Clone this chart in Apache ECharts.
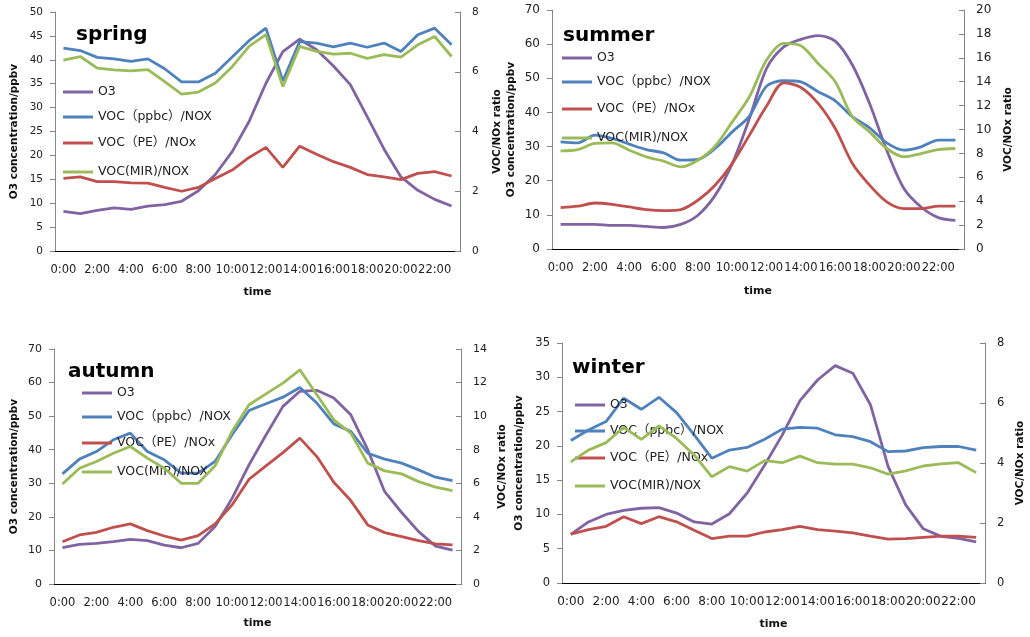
<!DOCTYPE html>
<html><head><meta charset="utf-8">
<script src="https://cdn.jsdelivr.net/npm/echarts@6/dist/echarts.min.js"></script>
<style>html,body{margin:0;padding:0;background:#fff}#c{width:1030px;height:637px}</style>
</head><body><div id="c"></div><script>
const hours = ['0:00','1:00','2:00','3:00','4:00','5:00','6:00','7:00','8:00','9:00','10:00','11:00','12:00','13:00','14:00','15:00','16:00','17:00','18:00','19:00','20:00','21:00','22:00','23:00'];
const seriesNames = ['O3','VOC（ppbc）/NOX','VOC（PE）/NOx','VOC(MIR)/NOX'];
const seasons = ['spring','summer','autumn','winter'];

const springO3   = [8.3,7.8,8.5,9.0,8.7,9.4,9.7,10.4,12.6,16.0,20.8,27.1,35.1,41.7,44.3,42.1,38.7,34.8,28.1,21.3,15.5,12.7,10.8,9.4];
const springPPBC = [6.79,6.71,6.48,6.43,6.35,6.43,6.10,5.66,5.66,5.95,6.49,7.04,7.46,5.69,7.01,6.96,6.83,6.96,6.82,6.96,6.68,7.24,7.46,6.90];
const springPE   = [2.43,2.48,2.32,2.32,2.28,2.27,2.13,2.00,2.13,2.43,2.71,3.13,3.47,2.80,3.51,3.24,2.99,2.80,2.56,2.48,2.39,2.60,2.66,2.51];
const springMIR  = [6.39,6.51,6.12,6.06,6.03,6.07,5.67,5.25,5.32,5.62,6.17,6.85,7.24,5.50,6.85,6.68,6.59,6.62,6.45,6.57,6.49,6.90,7.18,6.51];

const summerO3   = [7.2,7.2,7.2,6.9,6.9,6.6,6.3,7.2,9.9,15.7,25.0,38.2,52.9,59.2,61.4,62.5,60.9,53.9,42.6,28.9,17.7,12.3,9.2,8.4];
const summerPPBC = [8.97,8.88,9.53,9.25,8.77,8.32,8.04,7.43,7.49,8.41,9.80,11.12,13.63,14.08,13.99,13.16,12.40,11.06,10.14,8.88,8.27,8.55,9.11,9.11];
const summerPE   = [3.46,3.58,3.85,3.74,3.52,3.30,3.21,3.30,4.08,5.34,7.15,9.53,11.96,13.91,13.52,12.18,10.08,7.15,5.34,3.94,3.38,3.38,3.58,3.58];
const summerMIR  = [8.21,8.32,8.83,8.88,8.27,7.71,7.35,6.87,7.43,8.60,10.64,12.74,15.81,17.21,17.01,15.53,13.99,11.06,9.80,8.41,7.71,7.99,8.32,8.41];

const autumnO3   = [10.8,11.8,12.1,12.6,13.3,12.9,11.6,10.8,12.1,17.1,25.5,35.5,44.4,52.9,57.4,57.7,55.4,50.4,40.0,27.5,21.3,15.6,11.3,10.1];
const autumnPPBC = [6.56,7.44,7.89,8.59,8.99,7.89,7.40,6.60,6.60,7.30,8.89,10.34,10.74,11.13,11.71,10.78,9.54,9.09,7.79,7.44,7.20,6.80,6.36,6.16];
const autumnPE   = [2.52,2.92,3.08,3.38,3.58,3.18,2.86,2.62,2.88,3.58,4.71,6.24,7.04,7.83,8.69,7.59,6.06,4.97,3.52,3.06,2.82,2.58,2.39,2.33];
const autumnMIR  = [5.96,6.90,7.30,7.79,8.19,7.50,6.90,6.00,6.00,7.04,9.09,10.68,11.33,11.97,12.76,11.27,9.78,8.99,7.20,6.74,6.56,6.10,5.77,5.57];

const winterO3   = [7.1,8.9,10.0,10.6,10.9,11.0,10.2,8.9,8.6,10.1,13.1,17.2,21.6,26.6,29.6,31.7,30.6,26.0,17.0,11.4,7.9,6.8,6.5,6.0];
const winterPPBC = [4.75,5.10,5.38,6.16,5.79,6.19,5.68,4.94,4.16,4.43,4.52,4.79,5.13,5.19,5.16,4.94,4.88,4.71,4.38,4.40,4.51,4.55,4.55,4.43];
const winterPE   = [1.63,1.78,1.89,2.21,1.98,2.21,2.04,1.76,1.48,1.56,1.56,1.70,1.78,1.89,1.78,1.73,1.67,1.56,1.46,1.48,1.52,1.56,1.56,1.52];
const winterMIR  = [4.04,4.43,4.68,5.19,4.79,5.24,4.82,4.27,3.54,3.88,3.73,4.08,4.01,4.23,4.01,3.96,3.96,3.84,3.63,3.74,3.90,3.97,4.01,3.68];

const leftMax   = [50,70,70,35];
const leftStep  = [5,10,10,5];
const rightMax  = [8,20,14,8];
const rightStep = [2,2,2,2];

const seasonData = [
  [springO3,springPPBC,springPE,springMIR],
  [summerO3,summerPPBC,summerPE,summerMIR],
  [autumnO3,autumnPPBC,autumnPE,autumnMIR],
  [winterO3,winterPPBC,winterPE,winterMIR]
];

const colors = ['#8064A2','#4F81BD','#C0504D','#9BBB59'];
const FONT = "'DejaVu Sans','Noto Sans CJK SC',sans-serif";
const AXC = '#868686';

const layout = [
  {grid:{left:55,top:12,width:405,height:239}, title:[76,33], legLeft:63, legY:[92,117,143,172], lGap:35, rGap:32, tGap:36, smooth:false, yFs:10.5, xFs:11.5},
  {grid:{left:552,top:10,width:412,height:239}, title:[563,34], legLeft:562, legY:[58,82,109,138], lGap:35, rGap:39, tGap:37, smooth:0.3, yFs:12, xFs:11.5},
  {grid:{left:54,top:349,width:407,height:235}, title:[68,370], legLeft:82, legY:[393,417,443,472], lGap:34, rGap:36, tGap:34, smooth:false, yFs:11, xFs:11.5},
  {grid:{left:562,top:343,width:423,height:240}, title:[572,365.5], legLeft:575, legY:[405,431,458,486], lGap:37, rGap:30, tGap:36, smooth:false, yFs:11.5, xFs:12}
];

const option = {animation:false, backgroundColor:'#fff', color:colors, grid:[], xAxis:[], yAxis:[], series:[], legend:[], graphic:[]};

layout.forEach((L, p) => {
  option.grid.push(Object.assign({containLabel:false}, L.grid));
  option.xAxis.push({
    type:'category', gridIndex:p, data:hours, boundaryGap:true, position:'bottom',
    name:'time', nameLocation:'middle', nameGap:L.tGap,
    nameTextStyle:{fontFamily:FONT, fontWeight:'bold', fontSize:11, color:'#111'},
    axisLine:{lineStyle:{color:AXC, width:1}},
    axisTick:{inside:true, length:4, interval:0, lineStyle:{color:AXC}},
    axisLabel:{interval:1, fontFamily:FONT, fontSize:L.xFs, color:'#222', margin:13},
    splitLine:{show:false}
  });
  option.xAxis.push({
    type:'category', gridIndex:p, data:hours, position:'top',
    axisLine:{lineStyle:{color:'#000', width:1}}, axisTick:{show:false}, axisLabel:{show:false}, splitLine:{show:false}
  });
  option.yAxis.push({
    type:'value', gridIndex:p, min:0, max:leftMax[p], interval:leftStep[p], position:'left',
    name:'O3 concentration/ppbv', nameLocation:'middle', nameGap:L.lGap,
    nameTextStyle:{fontFamily:FONT, fontWeight:'bold', fontSize:10.5, color:'#111'},
    axisLine:{show:true, lineStyle:{color:AXC, width:1}},
    axisTick:{show:true, inside:false, length:5, lineStyle:{color:AXC}},
    axisLabel:{fontFamily:FONT, fontSize:L.yFs, color:'#222', margin:12},
    splitLine:{show:false}
  });
  option.yAxis.push({
    type:'value', gridIndex:p, min:0, max:rightMax[p], interval:rightStep[p], position:'right',
    name:'VOC/NOx ratio', nameLocation:'middle', nameGap:L.rGap,
    nameTextStyle:{fontFamily:FONT, fontWeight:'bold', fontSize:10.5, color:'#111'},
    axisLine:{show:true, lineStyle:{color:AXC, width:1}},
    axisTick:{show:true, inside:true, length:5, lineStyle:{color:AXC}},
    axisLabel:{fontFamily:FONT, fontSize:L.yFs, color:'#222', margin:12},
    splitLine:{show:false}
  });
  seasonData[p].forEach((vals, k) => {
    option.series.push({
      type:'line', name:seriesNames[k], xAxisIndex:2*p, yAxisIndex: k===0 ? 2*p : 2*p+1,
      data:vals, showSymbol:false, symbol:'none', smooth:L.smooth,
      lineStyle:{width:2.8, color:colors[k]}, itemStyle:{color:colors[k]}, z: 2+k
    });
    option.legend.push({
      data:[seriesNames[k]], left:L.legLeft, top:L.legY[k]-7, orient:'vertical', padding:0, itemGap:0,
      icon:'rect', itemWidth:30, itemHeight:3, selectedMode:false,
      textStyle:{fontFamily:FONT, fontSize:12.5, color:'#222', lineHeight:14}
    });
  });
  option.graphic.push({
    type:'text', left:L.title[0], top:L.title[1]-8, z:100,
    style:{text:seasons[p], fontFamily:FONT, fontWeight:'bold', fontSize:20, fill:'#000'}
  });
});

const chart = echarts.init(document.getElementById('c'), null, {renderer:'canvas'});
chart.setOption(option);
</script></body></html>
